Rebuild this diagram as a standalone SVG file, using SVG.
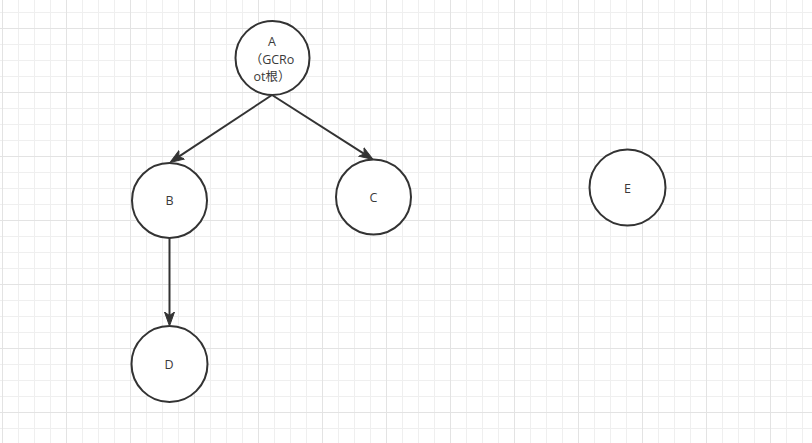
<svg xmlns="http://www.w3.org/2000/svg" width="812" height="443" viewBox="0 0 812 443">
  <style>
    .node circle { fill: #ffffff; stroke: #333333; stroke-width: 2; }
    .node text { font-family: "Open Sans", "Noto Sans CJK SC", sans-serif; font-size: 12.5px; fill: #3a3a3a; text-anchor: middle; }
    .edge { fill: none; stroke: #333333; stroke-width: 2; marker-end: url(#arrow); }
  </style>
  <defs>
    <pattern id="minor" x="2" y="12" width="16" height="16" patternUnits="userSpaceOnUse">
      <path d="M0.5 0 V16 M0 0.5 H16" stroke="#efefef" stroke-width="1" fill="none"/>
    </pattern>
    <pattern id="major" x="2" y="28" width="64" height="64" patternUnits="userSpaceOnUse">
      <path d="M0.5 0 V64 M0 0.5 H64" stroke="#e3e3e3" stroke-width="1" fill="none"/>
    </pattern>
    <marker id="arrow" markerUnits="userSpaceOnUse" viewBox="0 -6 15 12" refX="3.5" refY="0" markerWidth="15" markerHeight="12" orient="auto">
      <path d="M0,-5 L14,0 L0,5 L3.5,0 Z" fill="#333333" stroke="#333333" stroke-width="1" stroke-linejoin="miter"/>
    </marker>
  </defs>
  <rect width="812" height="443" fill="#ffffff"/>
  <rect width="812" height="443" fill="url(#minor)"/>
  <rect width="812" height="443" fill="url(#major)"/>

  <g id="connectors">
    <path class="edge" d="M272,95 L178.8,156.7"/>
    <path class="edge" d="M272,95 L364.2,153.9"/>
    <path class="edge" d="M169.5,238 L169.5,315.5"/>
  </g>

  <g id="node-A" class="node">
    <circle cx="272.5" cy="58" r="37"/>
    <text x="272" y="46">A</text>
    <text x="272" y="64">（GCRo</text>
    <text x="272" y="81">ot根）</text>
  </g>
  <g id="node-B" class="node">
    <circle cx="169.5" cy="200.5" r="37.5"/>
    <text x="169.5" y="205">B</text>
  </g>
  <g id="node-C" class="node">
    <circle cx="373.5" cy="197" r="37.5"/>
    <text x="373.5" y="202">C</text>
  </g>
  <g id="node-D" class="node">
    <circle cx="169.5" cy="364" r="38"/>
    <text x="169" y="369">D</text>
  </g>
  <g id="node-E" class="node">
    <circle cx="627.5" cy="187.5" r="38"/>
    <text x="627.5" y="192.5">E</text>
  </g>
</svg>
